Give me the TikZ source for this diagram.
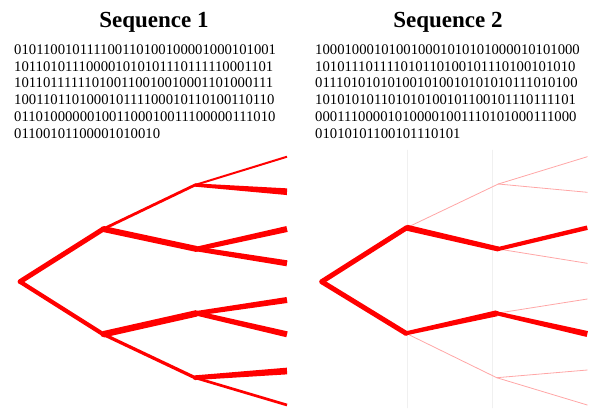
\documentclass[tikz,border=0pt]{standalone}
\usepackage{fontspec}
\setmainfont{Liberation Serif}
\usetikzlibrary{calc}

\tikzstyle{title}=[inner sep=0pt,anchor=base,font=\fontsize{23}{27}\selectfont\bfseries]
\tikzstyle{bits}=[inner sep=0pt,anchor=base west,font=\fontsize{14.7}{16.7}\selectfont]
\tikzstyle{faint}=[red!35,line width=0.8pt]
\newcommand{\branch}[4]{\fill[red] ($(#1)!#3pt*0.5!90:(#2)$) -- ($(#2)!#4pt*0.5!-90:(#1)$) -- ($(#2)!#4pt*0.5!90:(#1)$) -- ($(#1)!#3pt*0.5!-90:(#2)$) -- cycle;}

\begin{document}
\begin{tikzpicture}[x=1pt,y=-1pt,line cap=round]
\useasboundingbox (0,0) rectangle (594,408);
\node[title] (t1) at (154,27) {Sequence 1};
\node[title] (t2) at (448,27) {Sequence 2};
\node[bits] (a1) at (14,54.5) {010110010111100110100100001000101001};
\node[bits] (a2) at (14,71.2) {101101011100001010101110111110001101};
\node[bits] (a3) at (14,87.9) {101101111110100110010010001101000111};
\node[bits] (a4) at (14,104.6) {100110110100010111100010110100110110};
\node[bits] (a5) at (14,121.3) {011010000001001100010011100000111010};
\node[bits] (a6) at (14,138) {01100101100001010010};
\node[bits] (b1) at (315,54.5) {100010001010010001010101000010101000};
\node[bits] (b2) at (315,71.2) {101011101111010110100101110100101010};
\node[bits] (b3) at (315,87.9) {011101010101001010010101010111010100};
\node[bits] (b4) at (315,104.6) {101010101101010100101100101110111101};
\node[bits] (b5) at (315,121.3) {000111000010100001001110101000111000};
\node[bits] (b6) at (315,138) {01010101100101110101};
\draw [black!6] (406.7,150) -- (406.7,408);
\draw [black!6] (491.7,150) -- (491.7,408);
\coordinate (r) at (20,281.7);
\coordinate (u) at (103.3,229);
\coordinate (d) at (103.3,334.3);
\coordinate (uu) at (195,185);
\coordinate (ud) at (196.7,249);
\coordinate (du) at (196.7,313.3);
\coordinate (dd) at (195,377.7);
\coordinate (l1) at (287,156.7);
\coordinate (l2) at (287,191.7);
\coordinate (l3) at (287,229);
\coordinate (l4) at (287,263.3);
\coordinate (l5) at (287,300);
\coordinate (l6) at (287,334.3);
\coordinate (l7) at (287,371);
\coordinate (l8) at (287,405);
\branch{r}{u}{5}{5}
\branch{r}{d}{4.2}{4.2}
\branch{u}{uu}{2.8}{2.8}
\branch{u}{ud}{6}{6}
\branch{d}{du}{6.5}{6.5}
\branch{d}{dd}{3.3}{3.3}
\branch{uu}{l1}{2}{2}
\branch{uu}{l2}{3.3}{6.7}
\branch{ud}{l3}{4.7}{6}
\branch{ud}{l4}{4.7}{6}
\branch{du}{l5}{4.7}{6}
\branch{du}{l6}{4.7}{6}
\branch{dd}{l7}{4.7}{6.7}
\branch{dd}{l8}{2.7}{2.7}
\fill [red] (r) circle (2.4);
\fill [red] (u) circle (2.8);
\fill [red] (d) circle (2.8);
\fill [red] (uu) circle (1.6);
\fill [red] (ud) circle (2.8);
\fill [red] (du) circle (2.8);
\fill [red] (dd) circle (2.2);
\coordinate (R) at (321.7,281.7);
\coordinate (U) at (406.7,227.7);
\coordinate (D) at (406,333.3);
\coordinate (UU) at (498.3,184);
\coordinate (UD) at (498.3,249);
\coordinate (DU) at (496.7,313.3);
\coordinate (DD) at (496.7,377.7);
\coordinate (L1) at (587.3,156.7);
\coordinate (L2) at (587.3,192.3);
\coordinate (L3) at (587.3,227.7);
\coordinate (L4) at (587.3,263.3);
\coordinate (L5) at (587.3,299);
\coordinate (L6) at (587.3,334);
\coordinate (L7) at (587.3,370);
\coordinate (L8) at (587.3,405);
\draw [faint] (U) -- (UU);
\draw [faint] (D) -- (DD);
\draw [faint] (UU) -- (L1);
\draw [faint] (UU) -- (L2);
\draw [faint] (UD) -- (L4);
\draw [faint] (DU) -- (L5);
\draw [faint] (DD) -- (L7);
\draw [faint] (DD) -- (L8);
\branch{R}{U}{5}{5}
\branch{R}{D}{5}{5}
\branch{U}{UD}{6}{5}
\branch{D}{DU}{4}{6}
\branch{UD}{L3}{4}{4.5}
\branch{DU}{L6}{4}{6}
\fill [red] (R) circle (2.5);
\fill [red] (U) circle (2.5);
\fill [red] (D) circle (2.5);
\fill [red] (UD) circle (2.2);
\fill [red] (DU) circle (2.5);
\end{tikzpicture}
\end{document}
